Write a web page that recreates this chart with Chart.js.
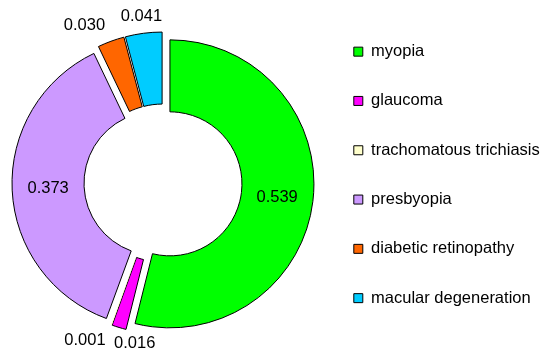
<!DOCTYPE html>
<html>
<head>
<meta charset="utf-8">
<script src="https://cdn.jsdelivr.net/npm/chart.js@4.4.1/dist/chart.umd.min.js"></script>
<style>
html,body{margin:0;padding:0;background:#fff;}
#wrap{width:550px;height:360px;}
</style>
</head>
<body>
<div id="wrap"><canvas id="c" width="550" height="360"></canvas></div>
<script>
const categories = ['myopia', 'glaucoma', 'trachomatous trichiasis', 'presbyopia', 'diabetic retinopathy', 'macular degeneration'];
const proportions = [0.539, 0.016, 0.001, 0.373, 0.030, 0.041];
const sliceColors = ['#00FF00', '#FF00FF', '#FFFFCC', '#CC99FF', '#FF6600', '#00CCFF'];
const sliceBorders = [1, 1, 0, 1, 1, 1];

const FONT = "'Liberation Sans', Arial, sans-serif";
const FONT_SIZE = 16.5;
const EXPLODE = 7;
const LABEL_GAP = 17;
const INSIDE_MIN = 0.1;

const explodePlugin = {
  id: 'explode',
  beforeDatasetsDraw(chart) {
    chart.getDatasetMeta(0).data.forEach(arc => {
      if (arc.__exploded) return;
      const base = arc.draw;
      arc.draw = function (ctx, area) {
        const mid = (this.startAngle + this.endAngle) / 2;
        ctx.save();
        ctx.translate(Math.cos(mid) * EXPLODE, Math.sin(mid) * EXPLODE);
        base.call(this, ctx, area);
        ctx.restore();
      };
      arc.__exploded = true;
    });
  }
};

const labelPlugin = {
  id: 'valueLabels',
  afterDatasetsDraw(chart) {
    const ctx = chart.ctx;
    const meta = chart.getDatasetMeta(0);
    const ds = chart.data.datasets[0];
    ctx.save();
    ctx.font = FONT_SIZE + 'px ' + FONT;
    ctx.fillStyle = '#000';
    ctx.textBaseline = 'middle';
    const outside = [];
    meta.data.forEach((arc, i) => {
      const v = ds.data[i];
      const text = v.toFixed(3);
      const mid = (arc.startAngle + arc.endAngle) / 2;
      const c = Math.cos(mid), s = Math.sin(mid);
      if (v >= INSIDE_MIN) {
        const r = (arc.innerRadius + arc.outerRadius) / 2 + EXPLODE;
        ctx.textAlign = 'center';
        ctx.fillText(text, arc.x + c * r, arc.y + s * r);
      } else {
        const r = arc.outerRadius + EXPLODE + LABEL_GAP;
        outside.push({text, x: arc.x + c * r, y: arc.y + s * r, w: ctx.measureText(text).width, align: 'center'});
      }
    });
    const span = l => l.align === 'center' ? [l.x - l.w / 2, l.x + l.w / 2]
                    : l.align === 'right' ? [l.x - l.w, l.x] : [l.x, l.x + l.w];
    const hit = (a, b) => {
      const A = span(a), B = span(b);
      return A[0] < B[1] && B[0] < A[1] && Math.abs(a.y - b.y) < FONT_SIZE;
    };
    for (let k = 0; k + 1 < outside.length; k++) {
      const a = outside[k], b = outside[k + 1];
      if (hit(a, b)) {
        const L = a.x <= b.x ? a : b, R = a.x <= b.x ? b : a;
        L.align = 'right';
        if (hit(a, b)) R.align = 'left';
      }
    }
    outside.forEach(l => { ctx.textAlign = l.align; ctx.fillText(l.text, l.x, l.y); });
    ctx.restore();
  }
};

new Chart(document.getElementById('c'), {
  type: 'doughnut',
  data: {
    labels: categories,
    datasets: [{
      data: proportions,
      backgroundColor: sliceColors,
      borderColor: '#000000',
      borderWidth: sliceBorders
    }]
  },
  options: {
    responsive: false,
    animation: false,
    radius: 144,
    cutout: '50%',
    rotation: 0,
    layout: {padding: {left: 5, right: 9, top: 10.6, bottom: 4.6}},
    plugins: {
      tooltip: {enabled: false},
      legend: {
        position: 'right',
        align: 'start',
        maxWidth: 220,
        labels: {
          boxWidth: 9,
          boxHeight: 9,
          padding: 32.8,
          color: '#000',
          font: {family: FONT, size: FONT_SIZE},
          generateLabels(chart) {
            const items = Chart.overrides.doughnut.plugins.legend.labels.generateLabels(chart);
            items.forEach(it => { it.lineWidth = 1; it.strokeStyle = '#000'; });
            return items;
          }
        }
      }
    }
  },
  plugins: [explodePlugin, labelPlugin]
});
</script>
</body>
</html>
